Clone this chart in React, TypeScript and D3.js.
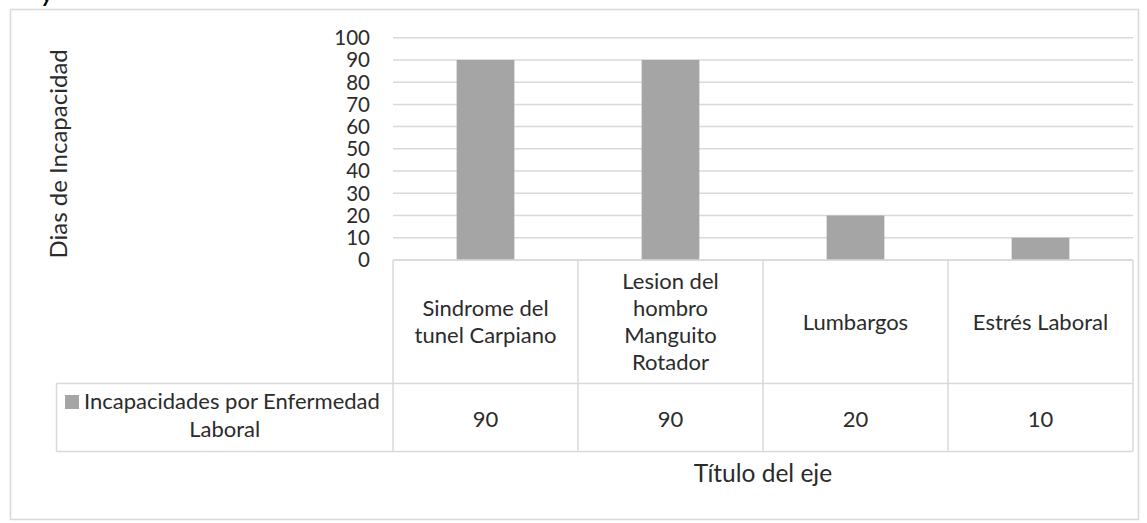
import * as d3 from "d3";

// chart data
const categories = [
  "Sindrome del tunel Carpiano",
  "Lesion del hombro Manguito Rotador",
  "Lumbargos",
  "Estrés Laboral",
];
const categoryLines = [
  ["Sindrome del", "tunel Carpiano"],
  ["Lesion del", "hombro", "Manguito", "Rotador"],
  ["Lumbargos"],
  ["Estrés Laboral"],
];
const seriesName = "Incapacidades por Enfermedad";
const seriesNameLine2 = "Laboral";
const values = [90, 90, 20, 10];
const yTicks = [0, 10, 20, 30, 40, 50, 60, 70, 80, 90, 100];
const yTitle = "Dias de Incapacidad";
const xTitle = "Título del eje";

const W = 1147;
const H = 523;
const FONT = "Lato, 'Open Sans', sans-serif";
const TEXT = "#2b2b2b";
const LINE = "#d9d9d9";
const BAR = "#a5a5a5";

export default function App() {
  // plot area
  const left = 393,
    right = 1133,
    top = 37.7,
    bottom = 260;
  const rowMid = 383.5; // between category row and data row
  const tableBottom = 451.5;
  const headerLeft = 56.5;

  const x = d3
    .scaleBand()
    .domain(categories)
    .range([left, right])
    .paddingInner(0.688)
    .paddingOuter(0.344);
  const y = d3.scaleLinear().domain([0, 100]).range([bottom, top]);

  const step = x.step();
  const colEdges = categories.map((c, i) => left + i * step).concat([right]);

  const fs = 22;
  const tickFs = 20.5;
  const lh = 27;
  const catCenter = (bottom + rowMid) / 2;
  const dataCenter = (rowMid + tableBottom) / 2;
  const capOff = fs * 0.36;

  return (
    <svg
      width={W}
      height={H}
      style={{ position: "absolute", left: 0, top: 0, background: "#fff" }}
      fontFamily={FONT}
    >
      {/* cut-off title fragment */}
      <text x={42} y={2} fontSize={22} fontStyle="italic" fontWeight="bold" fill="#000">
        y
      </text>
      {/* chart area border */}
      <rect x={10.5} y={9.5} width={1128} height={510} fill="#fff" stroke={LINE} strokeWidth={1.5} />

      {/* gridlines */}
      {yTicks.map((t) => (
        <line key={t} x1={left} x2={right} y1={y(t)} y2={y(t)} stroke={LINE} strokeWidth={1.5} />
      ))}

      {/* y tick labels */}
      {yTicks.map((t) => (
        <text key={t} x={370} y={y(t) + tickFs * 0.36} textAnchor="end" fontSize={tickFs} fill={TEXT}>
          {t}
        </text>
      ))}

      {/* bars */}
      {categories.map((c, i) => (
        <rect
          key={c}
          x={x(c)}
          y={y(values[i])}
          width={x.bandwidth()}
          height={y(0) - y(values[i])}
          fill={BAR}
        />
      ))}

      {/* data table */}
      <g stroke={LINE} strokeWidth={1.5} fill="none">
        <line x1={left} x2={right} y1={bottom} y2={bottom} />
        <line x1={headerLeft} x2={right} y1={rowMid} y2={rowMid} />
        <line x1={headerLeft} x2={right} y1={tableBottom} y2={tableBottom} />
        <line x1={headerLeft} x2={headerLeft} y1={rowMid} y2={tableBottom} />
        {colEdges.map((e, i) => (
          <line key={i} x1={e} x2={e} y1={bottom} y2={tableBottom} />
        ))}
      </g>

      {/* category labels */}
      {categories.map((c, i) => {
        const lines = categoryLines[i];
        const cx = (x(c) as number) + x.bandwidth() / 2;
        const first = catCenter - ((lines.length - 1) * lh) / 2 + capOff;
        return (
          <text key={c} textAnchor="middle" fontSize={fs} fill={TEXT}>
            {lines.map((l, j) => (
              <tspan key={j} x={cx} y={first + j * lh}>
                {l}
              </tspan>
            ))}
          </text>
        );
      })}

      {/* values row */}
      {categories.map((c, i) => (
        <text
          key={c}
          x={(x(c) as number) + x.bandwidth() / 2}
          y={dataCenter + capOff + 2}
          textAnchor="middle"
          fontSize={fs}
          fill={TEXT}
        >
          {values[i]}
        </text>
      ))}

      {/* series header with legend key */}
      <rect x={65} y={395} width={14} height={14} fill={BAR} />
      <text x={84} y={409} fontSize={fs} fill={TEXT}>
        {seriesName}
      </text>
      <text
        x={(headerLeft + left) / 2}
        y={437}
        textAnchor="middle"
        fontSize={fs}
        fill={TEXT}
      >
        {seriesNameLine2}
      </text>

      {/* axis titles */}
      <text
        transform={`translate(67,${(top + bottom) / 2 + 5}) rotate(-90)`}
        textAnchor="middle"
        fontSize={24}
        fill={TEXT}
      >
        {yTitle}
      </text>
      <text x={(left + right) / 2} y={482} textAnchor="middle" fontSize={24.5} fill={TEXT}>
        {xTitle}
      </text>
    </svg>
  );
}
